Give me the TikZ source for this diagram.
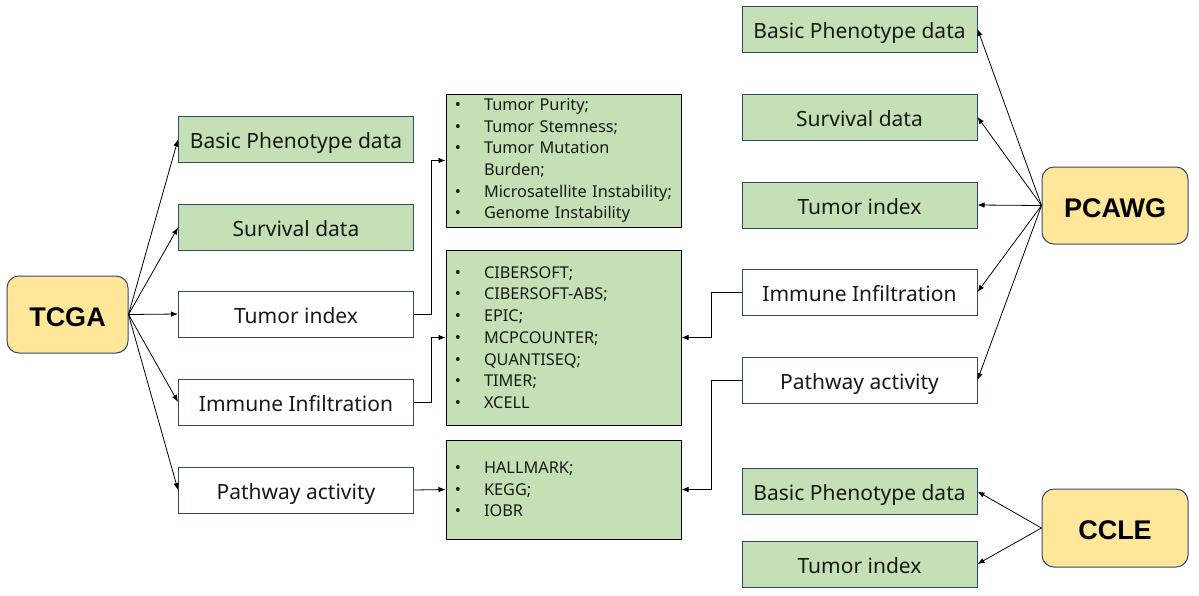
\documentclass[tikz,border=0pt]{standalone}
\usepackage{fontspec}
\setmainfont{Noto Sans}
\newfontfamily\boldlab{Liberation Sans}
\usetikzlibrary{arrows.meta,positioning}
\definecolor{gfill}{HTML}{C5E0B4}
\definecolor{yfill}{HTML}{FFE699}
\definecolor{bord}{HTML}{2F4A6A}
\tikzset{
  databox/.style={draw=bord, line width=1pt, minimum width=235pt, minimum height=46pt, inner sep=0pt,
    text height=18pt, text depth=0pt, font=\fontsize{21}{24}\selectfont, text=black!90},
  greenbox/.style={databox, fill=gfill},
  whitebox/.style={databox, fill=white},
  srcbox/.style={draw=bord, line width=1pt, fill=yfill, rounded corners=12pt, minimum height=77pt, inner sep=0pt,
    text height=23pt, text depth=0pt, font=\boldlab\bfseries\fontsize{27}{30}\selectfont},
  listbox/.style={draw=black, line width=1pt, fill=gfill, minimum width=235pt, text width=211pt, inner xsep=12pt, inner ysep=0pt,
    align=left, font=\fontsize{16.3}{21.7}\selectfont, text=black!90},
  conn/.style={draw=black, line width=0.8pt, -{Latex[length=7pt,width=5.5pt]}},
}
\newcommand{\bul}[1]{\mbox{\makebox[0pt][c]{•}\hspace{26pt}#1}}
\newcommand{\nobul}[1]{\mbox{\hspace{26pt}#1}}
\begin{document}
\begin{tikzpicture}[x=1pt,y=-1pt]
\useasboundingbox (0,0) rectangle (1199,595);
% sources
\node[srcbox, minimum width=121pt] (tcga) at (67.5,314.5) {TCGA};
\node[srcbox, minimum width=146pt] (pcawg) at (1115,205.5) {PCAWG};
\node[srcbox, minimum width=146pt, minimum height=78pt] (ccle) at (1115,528) {CCLE};
% left column
\node[greenbox] (lbasic) at (296,139.5) {Basic Phenotype data};
\node[greenbox] (lsurv) at (296,227.5) {Survival data};
\node[whitebox] (ltumor) at (296,314) {Tumor index};
\node[whitebox] (limm) at (296,402) {Immune Infiltration};
\node[whitebox] (lpath) at (296,490) {Pathway activity};
% right column
\node[greenbox] (rbasic) at (859.5,29) {Basic Phenotype data};
\node[greenbox] (rsurv) at (859.5,117) {Survival data};
\node[greenbox] (rtumor) at (859.5,205) {Tumor index};
\node[whitebox] (rimm) at (859.5,292) {Immune Infiltration};
\node[whitebox] (rpath) at (859.5,380) {Pathway activity};
\node[greenbox] (cbasic) at (859.5,491.5) {Basic Phenotype data};
\node[greenbox] (ctumor) at (859.5,564) {Tumor index};
% middle lists
\node[listbox, minimum height=133pt] (mtumor) at (563.5,160.5) {\bul{Tumor Purity;}\\ \bul{Tumor Stemness;}\\ \bul{Tumor Mutation}\\ \nobul{Burden;}\\ \bul{Microsatellite Instability;}\\ \bul{Genome Instability}};
\node[listbox, minimum height=175pt] (mimm) at (563.5,337.5) {\bul{CIBERSOFT;}\\ \bul{CIBERSOFT-ABS;}\\ \bul{EPIC;}\\ \bul{MCPCOUNTER;}\\ \bul{QUANTISEQ;}\\ \bul{TIMER;}\\ \bul{XCELL}};
\node[listbox, minimum height=99pt] (mpath) at (563.5,489.5) {\bul{HALLMARK;}\\ \bul{KEGG;}\\ \bul{IOBR}};
% TCGA arrows
\foreach \t in {lbasic,lsurv,ltumor,limm,lpath} \draw[conn] (tcga.east) -- (\t.west);
% PCAWG arrows
\foreach \t in {rbasic,rsurv,rtumor,rimm,rpath} \draw[conn] (pcawg.west) -- (\t.east);
% CCLE arrows
\foreach \t in {cbasic,ctumor} \draw[conn] (ccle.west) -- (\t.east);
% elbows
\draw[conn] (ltumor.east) -- ++(17,0) |- (mtumor.west);
\draw[conn] (limm.east) -- ++(17,0) |- (mimm.west);
\draw[conn] (lpath.east) -- (mpath.west);
\draw[conn] (rimm.west) -- ++(-30,0) |- (mimm.east);
\draw[conn] (rpath.west) -- ++(-30,0) |- (mpath.east);
\end{tikzpicture}
\end{document}
